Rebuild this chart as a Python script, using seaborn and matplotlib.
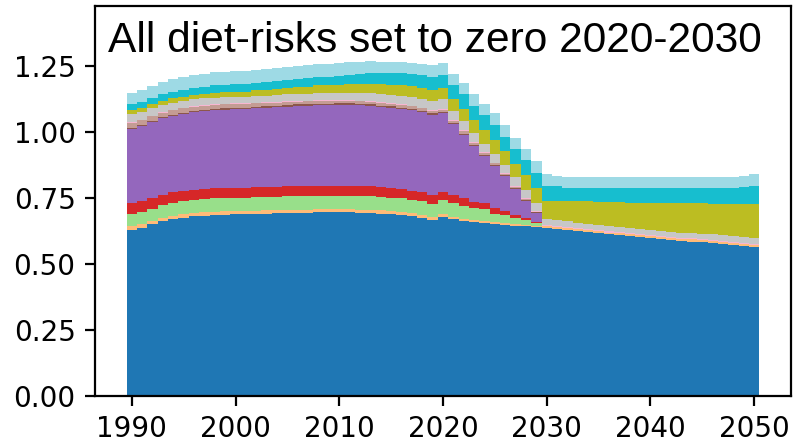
import numpy as np
import pandas as pd
import matplotlib
matplotlib.use("Agg")
import matplotlib.pyplot as plt
import seaborn as sns

years = list(range(1990, 2051))

# Stacked contributions per year, bottom layer first
blue = [0.629, 0.637, 0.650, 0.662, 0.670, 0.676, 0.680, 0.683, 0.685, 0.687,
        0.688, 0.689, 0.690, 0.691, 0.692, 0.693, 0.694, 0.694, 0.695, 0.695,
        0.695, 0.695, 0.694, 0.693, 0.691, 0.688, 0.685, 0.681, 0.675, 0.666,
        0.678, 0.669, 0.662, 0.658, 0.654, 0.651, 0.648, 0.645, 0.642, 0.639,
        0.636, 0.632, 0.628, 0.624, 0.620, 0.616, 0.612, 0.609, 0.605, 0.601,
        0.598, 0.595, 0.591, 0.588, 0.585, 0.582, 0.578, 0.575, 0.571, 0.568,
        0.564]
light_orange = [0.016, 0.015, 0.014, 0.014, 0.013, 0.013, 0.013, 0.013, 0.013, 0.013,
                0.013, 0.012, 0.012, 0.012, 0.012, 0.012, 0.012, 0.012, 0.012, 0.012,
                0.012, 0.012, 0.012, 0.012, 0.012, 0.012, 0.012, 0.012, 0.012, 0.012,
                0.011, 0.010, 0.010, 0.009, 0.009, 0.008, 0.007, 0.006, 0.006, 0.006,
                0.006, 0.007, 0.007, 0.007, 0.007, 0.007, 0.007, 0.008, 0.008, 0.008,
                0.008, 0.008, 0.008, 0.008, 0.008, 0.008, 0.009, 0.009, 0.009, 0.009,
                0.009]
light_green = [0.044, 0.045, 0.046, 0.047, 0.048, 0.048, 0.049, 0.049, 0.050, 0.050,
               0.050, 0.050, 0.051, 0.051, 0.051, 0.051, 0.052, 0.052, 0.052, 0.052,
               0.052, 0.052, 0.052, 0.052, 0.051, 0.051, 0.051, 0.050, 0.050, 0.050,
               0.053, 0.051, 0.049, 0.044, 0.044, 0.031, 0.029, 0.022, 0.019, 0.009,
               0, 0, 0, 0, 0, 0, 0, 0, 0, 0,
               0, 0, 0, 0, 0, 0, 0, 0, 0, 0,
               0]
red = [0.041, 0.041, 0.041, 0.040, 0.040, 0.040, 0.039, 0.039, 0.039, 0.038,
       0.038, 0.038, 0.038, 0.038, 0.038, 0.038, 0.038, 0.038, 0.038, 0.038,
       0.038, 0.038, 0.037, 0.037, 0.036, 0.036, 0.035, 0.035, 0.034, 0.034,
       0.029, 0.031, 0.029, 0.025, 0.023, 0.022, 0.018, 0.013, 0.006, 0.004,
       0, 0, 0, 0, 0, 0, 0, 0, 0, 0,
       0, 0, 0, 0, 0, 0, 0, 0, 0, 0,
       0]
purple = [0.283, 0.285, 0.287, 0.289, 0.291, 0.292, 0.294, 0.295, 0.296, 0.297,
          0.297, 0.298, 0.299, 0.300, 0.301, 0.302, 0.303, 0.304, 0.305, 0.305,
          0.306, 0.306, 0.306, 0.306, 0.305, 0.305, 0.304, 0.304, 0.303, 0.303,
          0.299, 0.268, 0.240, 0.211, 0.179, 0.158, 0.130, 0.098, 0.067, 0.035,
          0, 0, 0, 0, 0, 0, 0, 0, 0, 0,
          0, 0, 0, 0, 0, 0, 0, 0, 0, 0,
          0]
brown = [0.002, 0.003, 0.003, 0.004, 0.004, 0.004, 0.005, 0.005, 0.005, 0.005,
         0.005, 0.005, 0.005, 0.005, 0.005, 0.005, 0.005, 0.005, 0.005, 0.005,
         0.005, 0.005, 0.005, 0.005, 0.005, 0.005, 0.005, 0.005, 0.005, 0.005,
         0.005, 0.005, 0.004, 0.004, 0.004, 0.004, 0.004, 0.003, 0.003, 0.002,
         0, 0, 0, 0, 0, 0, 0, 0, 0, 0,
         0, 0, 0, 0, 0, 0, 0, 0, 0, 0,
         0]
light_brown = [0.020, 0.019, 0.018, 0.017, 0.016, 0.016, 0.015, 0.015, 0.014, 0.014,
               0.014, 0.013, 0.013, 0.012, 0.012, 0.012, 0.011, 0.011, 0.011, 0.011,
               0.010, 0.010, 0.010, 0.010, 0.010, 0.010, 0.010, 0.010, 0.010, 0.010,
               0.010, 0.009, 0.009, 0.008, 0.008, 0.007, 0.006, 0.005, 0.004, 0.003,
               0, 0, 0, 0, 0, 0, 0, 0, 0, 0,
               0, 0, 0, 0, 0, 0, 0, 0, 0, 0,
               0]
light_pink = [0.002, 0.002, 0.002, 0.002, 0.002, 0.002, 0.003, 0.003, 0.003, 0.003,
              0.003, 0.003, 0.003, 0.003, 0.003, 0.003, 0.003, 0.003, 0.003, 0.003,
              0.003, 0.003, 0.003, 0.003, 0.003, 0.003, 0.003, 0.003, 0.003, 0.003,
              0.003, 0.003, 0.003, 0.003, 0.003, 0.003, 0.003, 0.003, 0.003, 0.003,
              0.004, 0.004, 0.004, 0.004, 0.004, 0.004, 0.004, 0.004, 0.004, 0.004,
              0.004, 0.004, 0.004, 0.004, 0.004, 0.004, 0.004, 0.004, 0.004, 0.004,
              0.004]
light_gray = [0.031, 0.029, 0.028, 0.027, 0.026, 0.025, 0.025, 0.025, 0.025, 0.025,
              0.025, 0.025, 0.025, 0.025, 0.026, 0.026, 0.026, 0.026, 0.027, 0.027,
              0.027, 0.028, 0.028, 0.029, 0.030, 0.031, 0.031, 0.032, 0.032, 0.033,
              0.035, 0.032, 0.034, 0.033, 0.032, 0.032, 0.029, 0.034, 0.029, 0.029,
              0.025, 0.024, 0.023, 0.022, 0.021, 0.020, 0.019, 0.019, 0.018, 0.018,
              0.018, 0.018, 0.019, 0.019, 0.020, 0.020, 0.021, 0.021, 0.022, 0.022,
              0.023]
olive = [0.016, 0.016, 0.017, 0.017, 0.017, 0.018, 0.018, 0.018, 0.019, 0.019,
         0.019, 0.020, 0.021, 0.022, 0.023, 0.024, 0.025, 0.026, 0.028, 0.029,
         0.031, 0.032, 0.034, 0.035, 0.037, 0.038, 0.040, 0.041, 0.043, 0.044,
         0.042, 0.048, 0.048, 0.049, 0.050, 0.055, 0.053, 0.050, 0.057, 0.059,
         0.069, 0.073, 0.078, 0.080, 0.085, 0.089, 0.094, 0.095, 0.096, 0.099,
         0.102, 0.105, 0.108, 0.111, 0.113, 0.116, 0.117, 0.120, 0.122, 0.125,
         0.126]
cyan = [0.022, 0.022, 0.023, 0.023, 0.024, 0.025, 0.025, 0.026, 0.027, 0.027,
        0.028, 0.028, 0.029, 0.029, 0.030, 0.031, 0.031, 0.032, 0.033, 0.033,
        0.034, 0.036, 0.038, 0.040, 0.042, 0.044, 0.046, 0.047, 0.049, 0.050,
        0.050, 0.053, 0.057, 0.054, 0.057, 0.057, 0.054, 0.057, 0.057, 0.057,
        0.055, 0.055, 0.049, 0.052, 0.052, 0.053, 0.053, 0.051, 0.055, 0.056,
        0.056, 0.056, 0.056, 0.056, 0.056, 0.056, 0.057, 0.057, 0.058, 0.064,
        0.068]
light_cyan = [0.041, 0.044, 0.046, 0.047, 0.048, 0.049, 0.050, 0.050, 0.050, 0.050,
              0.050, 0.050, 0.050, 0.050, 0.050, 0.049, 0.049, 0.049, 0.048, 0.048,
              0.048, 0.047, 0.046, 0.045, 0.044, 0.043, 0.042, 0.041, 0.040, 0.042,
              0.047, 0.042, 0.042, 0.044, 0.042, 0.043, 0.047, 0.041, 0.041, 0.043,
              0.045, 0.040, 0.042, 0.042, 0.042, 0.042, 0.042, 0.045, 0.045, 0.045,
              0.045, 0.045, 0.045, 0.045, 0.045, 0.045, 0.045, 0.045, 0.045, 0.040,
              0.046]

layers = {
    "s01": (blue, "#1f77b4"),
    "s04": (light_orange, "#ffbb78"),
    "s06": (light_green, "#98df8a"),
    "s07": (red, "#d62728"),
    "s09": (purple, "#9467bd"),
    "s11": (brown, "#8c564b"),
    "s12": (light_brown, "#c49c94"),
    "s14": (light_pink, "#f7b6d2"),
    "s16": (light_gray, "#c7c7c7"),
    "s17": (olive, "#bcbd22"),
    "s19": (cyan, "#17becf"),
    "s20": (light_cyan, "#9edae5"),
}

frames = [pd.DataFrame({"year": years, "series": name, "value": vals})
          for name, (vals, _) in layers.items()]
df = pd.concat(frames, ignore_index=True)
palette = {name: col for name, (_, col) in layers.items()}
# seaborn stacks the last hue level at the bottom
hue_order = list(layers.keys())[::-1]

fig = plt.figure(figsize=(7.93 / 2, 4.43 / 2), dpi=200)
ax = fig.add_axes([95 / 793, 1 - 396 / 443, (791 - 95) / 793, (396 - 6) / 443])

sns.histplot(data=df, x="year", weights="value", hue="series",
             hue_order=hue_order, palette=palette, multiple="stack",
             discrete=True, element="step", fill=True, alpha=1,
             linewidth=0, edgecolor="none", legend=False, ax=ax)

ax.set_xlim(1986.45, 2053.55)
ax.set_ylim(0, 1.477)
ax.set_xticks(range(1990, 2051, 10))
ax.set_yticks([0, 0.25, 0.5, 0.75, 1.0, 1.25])
ax.set_xlabel("")
ax.set_ylabel("")
ax.text(0.018, 0.962, "All diet-risks set to zero 2020-2030",
        transform=ax.transAxes, ha="left", va="top",
        fontsize=15.3, family="Liberation Sans")

fig.savefig("out.png", dpi=200)
